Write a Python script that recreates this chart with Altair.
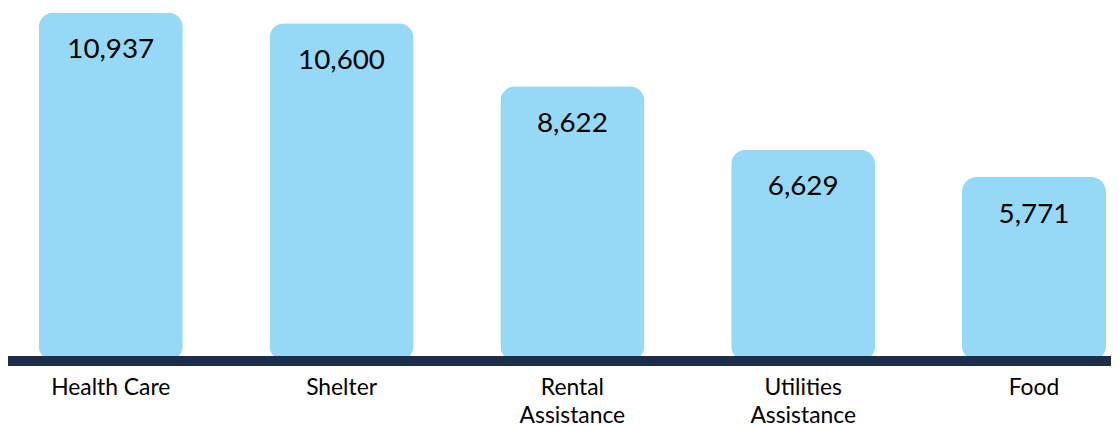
import altair as alt
import pandas as pd

categories = ["Health Care", "Shelter", "Rental Assistance", "Utilities Assistance", "Food"]
label_lines = ["Health Care", "Shelter", "Rental\nAssistance", "Utilities\nAssistance", "Food"]
values = [10937, 10600, 8622, 6629, 5771]

df = pd.DataFrame({"cat": categories, "label": label_lines, "value": values})
df["text"] = df["value"].map(lambda v: f"{v:,}")

W = 1111
H = 354

x_enc = alt.X("cat:N", sort=categories, axis=None,
              scale=alt.Scale(paddingInner=0.376, paddingOuter=0.0774, align=0.86, round=False))
y_scale = alt.Scale(domain=[0, 11030], nice=False, zero=True)

base = alt.Chart(df)

bars = base.mark_bar(color="#96D9F6", cornerRadius=15).encode(
    x=x_enc,
    y=alt.Y("value:Q", scale=y_scale, axis=None),
)

vals = base.mark_text(font="Lato", fontSize=28, color="#000000", baseline="alphabetic", dy=46).encode(
    x=x_enc,
    y=alt.Y("value:Q", scale=y_scale),
    text="text:N",
)

cats = base.mark_text(font="Lato", fontSize=23, color="#000000", baseline="alphabetic",
                      lineBreak="\n", lineHeight=28, align="center").encode(
    x=x_enc,
    y=alt.value(H + 34),
    text="label:N",
)

line = alt.Chart(pd.DataFrame({"v": [0]})).mark_rule(color="#1D2E4A", strokeWidth=10).encode(
    y=alt.Y("v:Q", scale=y_scale),
    x=alt.value(0),
    x2=alt.value(W),
)

chart = alt.layer(bars, line, vals, cats).properties(
    width=W, height=H,
    padding={"left": 0, "top": 0, "right": 0, "bottom": 72},
    autosize=alt.AutoSizeParams(type="none"),
).configure_view(stroke=None)

chart.save("out.html", embed_options={"renderer": "svg", "actions": False})
